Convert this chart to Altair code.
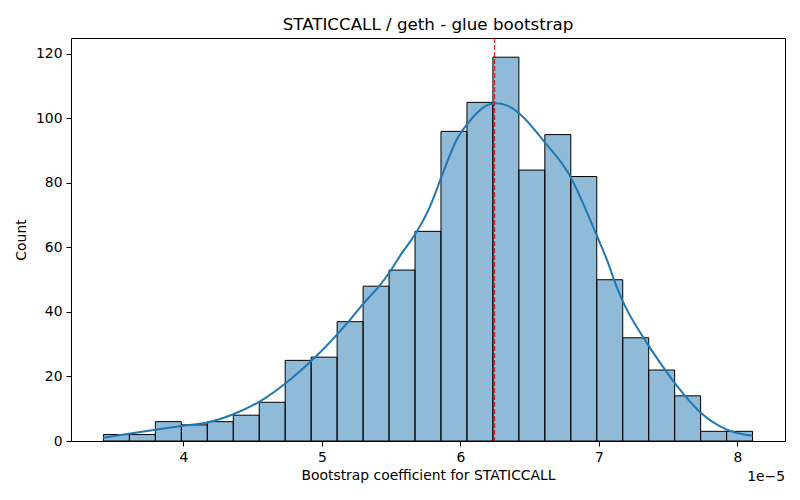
import altair as alt
import pandas as pd
import numpy as np

# Histogram counts (25 bins)
counts = [2, 2, 6, 5, 6, 8, 12, 25, 26, 37, 48, 53, 65, 96, 105, 119,
          84, 95, 82, 50, 32, 22, 14, 3, 3]
bin_lo = 3.423e-5
bin_hi = 8.110e-5

# KDE curve (x in units of 1e-5, y in counts)
kde_x = [3.42, 3.70, 4.00, 4.18, 4.36, 4.55, 4.75, 4.95, 5.20, 5.30, 5.42,
         5.49, 5.575, 5.683, 5.779, 5.863, 5.97, 6.07, 6.16, 6.25, 6.34, 6.43,
         6.60, 6.79, 6.98, 7.06, 7.13, 7.17, 7.35, 7.49, 7.56, 7.74, 7.92, 8.11]
kde_y = [1.0, 2.9, 4.7, 5.8, 8.3, 12.2, 18.3, 25.9, 37.4, 42.6, 48.3,
         52.4, 58.1, 64.7, 72.5, 81.8, 93.1, 99.3, 103.2, 104.7, 104.0, 101.4,
         93.1, 82.3, 64.2, 56.0, 47.7, 43.6, 30.2, 21.4, 17.3, 8.6, 3.6, 1.6]

ref_value = 6.247e-5
x_ticks = [4e-5, 5e-5, 6e-5, 7e-5, 8e-5]
y_ticks = [0, 20, 40, 60, 80, 100, 120]

title_text = "STATICCALL / geth - glue bootstrap"
x_title = "Bootstrap coefficient for STATICCALL"
y_title = "Count"
offset_text = "1e\u22125"

edges = np.linspace(bin_lo, bin_hi, len(counts) + 1)
bars_df = pd.DataFrame({"start": edges[:-1], "end": edges[1:], "count": counts})
kde_df = pd.DataFrame({"x": [v * 1e-5 for v in kde_x], "y": kde_y})
ref_df = pd.DataFrame({"x": [ref_value]})

span = bin_hi - bin_lo
x_scale = alt.Scale(domain=[bin_lo - 0.05 * span, bin_hi + 0.05 * span], nice=False, zero=False)
y_scale = alt.Scale(domain=[0, max(counts) * 1.05], nice=False)

FONT = "DejaVu Sans"
FS = 13.9

x_axis = alt.Axis(values=x_ticks, labelExpr="format(datum.value * 1e5, '.0f')",
                  title=x_title, grid=False, domain=False, tickSize=5,
                  labelPadding=4, titlePadding=5)
y_axis = alt.Axis(values=y_ticks, title=y_title, grid=False, domain=False,
                  tickSize=5, labelPadding=4, titlePadding=7)

bars = alt.Chart(bars_df).mark_rect(
    fill="#1f77b4", fillOpacity=0.5, stroke="black", strokeWidth=1
).encode(
    x=alt.X("start:Q", scale=x_scale, axis=x_axis),
    x2="end:Q",
    y=alt.Y("count:Q", scale=y_scale, axis=y_axis),
    y2=alt.datum(0),
)

kde = alt.Chart(kde_df).mark_line(
    color="#1f77b4", strokeWidth=2, interpolate="monotone"
).encode(
    x=alt.X("x:Q", scale=x_scale),
    y=alt.Y("y:Q", scale=y_scale),
)

rule = alt.Chart(ref_df).mark_rule(
    color="red", opacity=0.85, strokeWidth=1.2, strokeDash=[5, 2]
).encode(
    x=alt.X("x:Q", scale=x_scale),
)

offset_label = alt.Chart(pd.DataFrame({"t": [offset_text]})).mark_text(
    align="right", baseline="middle", fontSize=FS, font=FONT, color="black"
).encode(
    text="t:N",
    x=alt.value(714),
    y=alt.value(439),
)

chart = alt.layer(bars, kde, rule, offset_label).properties(
    width=714,
    height=403,
    title=alt.TitleParams(title_text, fontSize=16.7, font=FONT, fontWeight="normal",
                          anchor="middle", offset=4, color="black"),
    autosize=alt.AutoSizeParams(type="none"),
    padding={"left": 63, "top": 30, "right": 7, "bottom": 51},
).configure_view(
    stroke="black", strokeWidth=1
).configure_axis(
    labelFont=FONT, titleFont=FONT, labelFontSize=FS, titleFontSize=FS,
    titleFontWeight="normal", labelColor="black", titleColor="black",
    tickColor="black", tickWidth=1,
)

chart.save("out.html", embed_options={"renderer": "svg", "actions": False})
